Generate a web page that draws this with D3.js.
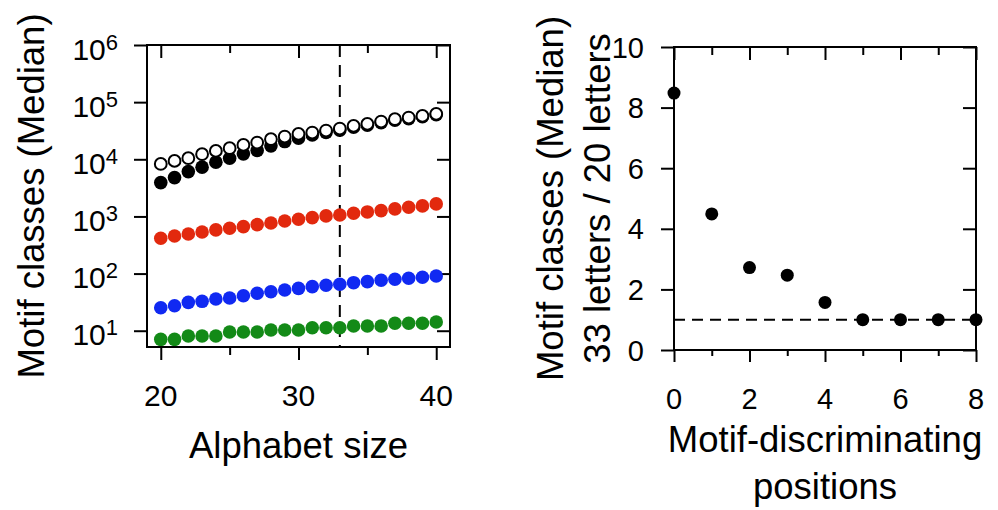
<!DOCTYPE html>
<html>
<head>
<meta charset="utf-8">
<script src="https://cdn.jsdelivr.net/npm/d3@7"></script>
<style>
  body { margin: 0; background: #fff; }
  svg { display: block; font-family: "Liberation Sans", Arial, Helvetica, sans-serif; }
  .axis path { display: none; }
  .axis line { stroke: #000; stroke-width: 2; }
</style>
</head>
<body>
<div id="main"></div>
<script>
// left panel: motif classes (median) vs alphabet size
var alphabetSize = [20, 21, 22, 23, 24, 25, 26, 27, 28, 29, 30, 31, 32, 33, 34, 35, 36, 37, 38, 39, 40];
var openBlack = [8300, 9380, 10450, 12280, 14030, 15640, 17860, 19600, 22480, 24990, 27860, 29380, 31840, 34510, 38460, 41690, 45740, 50370, 53700, 57500, 62400];
var filledBlack = [3910, 4780, 6090, 7280, 8900, 10450, 12440, 14220, 17180, 20420, 23390, 26730, 29600, 32400, 36500, 39600, 43900, 48400, 51500, 55800, 60500];
var redSeries = [415, 455, 493, 535, 581, 621, 663, 718, 769, 834, 893, 953, 1021, 1062, 1137, 1199, 1265, 1355, 1449, 1528, 1656];
var blueSeries = [25.3, 27.4, 31.4, 32.7, 35.9, 37.4, 41.0, 45.2, 48.2, 51.6, 55.2, 59.0, 62.4, 65.0, 69.3, 72.2, 76.4, 79.5, 82.8, 86.1, 90.7];
var greenSeries = [7.07, 7.07, 8.07, 8.07, 8.07, 9.5, 9.5, 9.5, 10.3, 10.3, 10.3, 11.3, 11.3, 11.3, 12.1, 12.1, 12.1, 13.5, 13.5, 13.5, 14.2];
var cutoffSize = 33;
var sizeTicks = [20, 30, 40];
var sizeMinorTicks = [25, 35];
var logTicks = [10, 100, 1000, 10000, 100000, 1000000];

// right panel: ratio 33 letters / 20 letters vs discriminating positions
var positions = [0, 1, 2, 3, 4, 5, 6, 7, 8];
var ratio = [8.48, 4.49, 2.72, 2.47, 1.57, 1.0, 1.0, 1.0, 1.0];
var ratioBaseline = 1;
var posTicks = [0, 2, 4, 6, 8];
var posMinorTicks = [1, 3, 5, 7];
var ratioTicks = [0, 2, 4, 6, 8, 10];

var W = 998, H = 510;
var svg = d3.select("#main").append("svg").attr("width", W).attr("height", H);

var L = { left: 147, right: 450, top: 45, bottom: 347 };
var R = { left: 674, right: 976, top: 47, bottom: 350 };

var xL = d3.scaleLinear().domain([19, 41]).range([L.left, L.right]);
var yL = d3.scaleLog().domain([5.19, 1e6]).range([L.bottom, L.top]);
var xR = d3.scaleLinear().domain([0, 8]).range([R.left, R.right]);
var yR = d3.scaleLinear().domain([0, 10]).range([R.bottom, R.top]);

function tickGroup(axis, tx, ty, values, size) {
  svg.append("g").attr("class", "axis")
    .attr("transform", "translate(" + tx + "," + ty + ")")
    .call(axis.tickValues(values).tickSize(size).tickSizeOuter(0).tickFormat(""));
}

function frame(p) {
  svg.append("rect").attr("x", p.left).attr("y", p.top)
    .attr("width", p.right - p.left).attr("height", p.bottom - p.top)
    .attr("fill", "none").attr("stroke", "#000").attr("stroke-width", 2);
}

// ---- left panel ----
tickGroup(d3.axisBottom(xL), 0, L.bottom, sizeTicks, 13);
tickGroup(d3.axisBottom(xL), 0, L.bottom, sizeMinorTicks, 8);
tickGroup(d3.axisBottom(xL), 0, L.top, sizeTicks, 13);
tickGroup(d3.axisBottom(xL), 0, L.top, sizeMinorTicks, 8);
tickGroup(d3.axisLeft(yL), L.left, 0, logTicks, 13);
tickGroup(d3.axisLeft(yL), L.right, 0, logTicks, 13);

svg.append("line")
  .attr("x1", xL(cutoffSize)).attr("x2", xL(cutoffSize))
  .attr("y1", L.top).attr("y2", L.bottom)
  .attr("stroke", "#000").attr("stroke-width", 2).attr("stroke-dasharray", "12,8");

var leftSeries = [
  { vals: greenSeries, fill: "#138a17", stroke: "none" },
  { vals: blueSeries, fill: "#1029f2", stroke: "none" },
  { vals: redSeries, fill: "#e2290e", stroke: "none" },
  { vals: filledBlack, fill: "#000", stroke: "none" },
  { vals: openBlack, fill: "#fff", stroke: "#000" }
];
leftSeries.forEach(function(s) {
  svg.append("g").selectAll("circle").data(s.vals).join("circle")
    .attr("cx", function(d, i) { return xL(alphabetSize[i]); })
    .attr("cy", function(d) { return yL(d); })
    .attr("r", s.stroke === "none" ? 6.8 : 5.9)
    .attr("fill", s.fill)
    .attr("stroke", s.stroke)
    .attr("stroke-width", 2);
});
frame(L);

svg.append("g").selectAll("text").data(logTicks).join("text")
  .attr("x", 118).attr("y", function(d) { return yL(d) + 14.5; })
  .attr("text-anchor", "end").attr("font-size", 30)
  .text("10")
  .append("tspan").attr("font-size", 22).attr("dy", -10)
  .text(function(d) { return Math.round(Math.log10(d)); });

svg.append("g").selectAll("text").data(sizeTicks).join("text")
  .attr("x", function(d) { return xL(d); }).attr("y", 406)
  .attr("text-anchor", "middle").attr("font-size", 30)
  .text(function(d) { return d; });

svg.append("text").attr("x", (L.left + L.right) / 2).attr("y", 458)
  .attr("text-anchor", "middle").attr("font-size", 36.5)
  .text("Alphabet size");
svg.append("text").attr("transform", "translate(43.5," + (L.top + L.bottom) / 2 + ")rotate(-90)")
  .attr("text-anchor", "middle").attr("font-size", 36.5)
  .text("Motif classes (Median)");

// ---- right panel ----
tickGroup(d3.axisBottom(xR), 0, R.bottom, posTicks, 12);
tickGroup(d3.axisBottom(xR), 0, R.bottom, posMinorTicks, 6);
tickGroup(d3.axisBottom(xR), 0, R.top, posTicks, 13);
tickGroup(d3.axisBottom(xR), 0, R.top, posMinorTicks, 8);
tickGroup(d3.axisLeft(yR), R.left, 0, ratioTicks, 13);
tickGroup(d3.axisLeft(yR), R.right, 0, ratioTicks, 13);

svg.append("line")
  .attr("x1", xR(0)).attr("x2", xR(8))
  .attr("y1", yR(ratioBaseline)).attr("y2", yR(ratioBaseline))
  .attr("stroke", "#000").attr("stroke-width", 2).attr("stroke-dasharray", "11,7");
frame(R);

svg.append("g").selectAll("circle").data(ratio).join("circle")
  .attr("cx", function(d, i) { return xR(positions[i]); })
  .attr("cy", function(d) { return yR(d); })
  .attr("r", 6.5).attr("fill", "#000");

svg.append("g").selectAll("text").data(ratioTicks).join("text")
  .attr("x", 644).attr("y", function(d) { return yR(d) + 10.5; })
  .attr("text-anchor", "end").attr("font-size", 29)
  .text(function(d) { return d; });

svg.append("g").selectAll("text").data(posTicks).join("text")
  .attr("x", function(d) { return xR(d); }).attr("y", 409)
  .attr("text-anchor", "middle").attr("font-size", 29)
  .text(function(d) { return d; });

var rcx = (R.left + R.right) / 2, rcy = (R.top + R.bottom) / 2;
[["Motif-discriminating", 452], ["positions", 499]].forEach(function(t) {
  svg.append("text").attr("x", rcx).attr("y", t[1])
    .attr("text-anchor", "middle").attr("font-size", 36.5).text(t[0]);
});
[["Motif classes (Median)", 563], ["33 letters / 20 letters", 610]].forEach(function(t) {
  svg.append("text").attr("transform", "translate(" + t[1] + "," + rcy + ")rotate(-90)")
    .attr("text-anchor", "middle").attr("font-size", 36.5).text(t[0]);
});
</script>
</body>
</html>
